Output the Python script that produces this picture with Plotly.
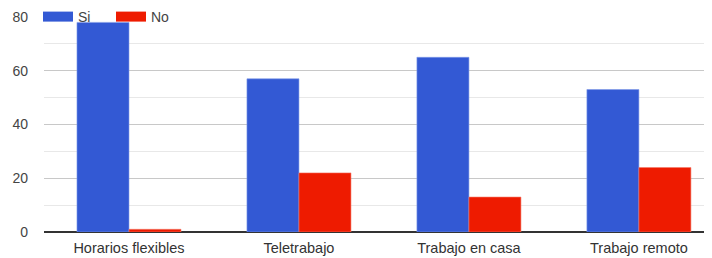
import plotly.graph_objects as go

categories = ["Horarios flexibles", "Teletrabajo", "Trabajo en casa", "Trabajo remoto"]
si_values = [78, 57, 65, 53]
no_values = [1, 22, 13, 24]
y_ticks = [0, 20, 40, 60, 80]
series_names = ["Si", "No"]
series_colors = ["#3359d4", "#ee1b00"]

fig = go.Figure()
fig.add_trace(go.Bar(name=series_names[0], x=categories, y=si_values, marker_color=series_colors[0],
                     marker_line=dict(color="#7f9be8", width=0.6), showlegend=False))
fig.add_trace(go.Bar(name=series_names[1], x=categories, y=no_values, marker_color=series_colors[1],
                     marker_line=dict(color="#f57a6a", width=0.6), showlegend=False))
# legend entries with wide swatches
for name, color in zip(series_names, series_colors):
    fig.add_trace(go.Scatter(name=name, x=[None], y=[None], mode="lines",
                             line=dict(color=color, width=13), showlegend=True))

# page body has an 8px default margin, so the figure is sized/offset accordingly
fig.update_layout(
    width=704, height=250,
    margin=dict(l=36, r=0, t=9, b=26, autoexpand=False),
    paper_bgcolor="white", plot_bgcolor="white",
    barmode="group", bargap=0.388, bargroupgap=0,
    font=dict(family="Liberation Sans, Arial, sans-serif", size=14, color="#444"),
    showlegend=True,
    legend=dict(orientation="h", x=-0.009, xanchor="left", y=1, yanchor="middle",
                bgcolor="rgba(0,0,0,0)", font=dict(size=14, color="#444"),
                traceorder="normal", itemwidth=30, tracegroupgap=0, entrywidth=28),
    xaxis=dict(range=[-0.5, 3.43], showgrid=False, ticks="", showline=False,
               ticklabelstandoff=5, tickfont=dict(size=14.5, color="#333")),
    yaxis=dict(range=[0, 80], tickvals=y_ticks, showgrid=True, gridcolor="#c8c8c8",
               gridwidth=1, zeroline=True, zerolinecolor="#333333", zerolinewidth=2,
               ticks="", ticklabelstandoff=15, tickfont=dict(size=14, color="#444"),
               minor=dict(dtick=10, showgrid=True, gridcolor="#e8e8e8", gridwidth=1)),
)

fig.write_html("out.html")
